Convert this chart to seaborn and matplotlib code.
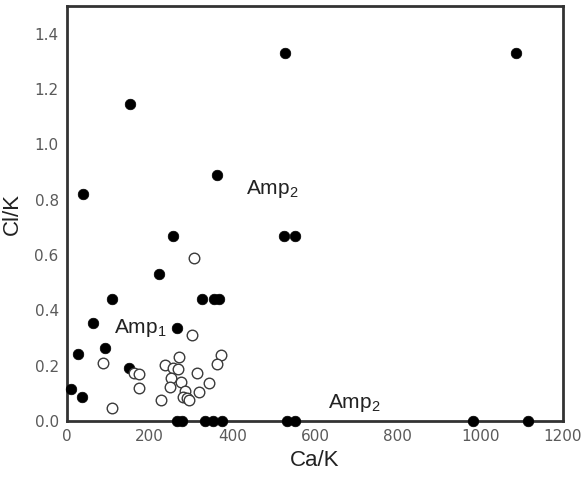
import matplotlib
matplotlib.use("Agg")
import matplotlib.pyplot as plt
import seaborn as sns
import pandas as pd

# Amp2 analyses (filled symbols)
amp2_ca_k = [1086, 527, 152, 363, 38, 256, 525, 552, 222, 108, 327, 356, 368,
             63, 265, 26, 92, 150, 10, 36,
             266, 278, 334, 353, 375, 532, 552, 983, 1115]
amp2_cl_k = [1.33, 1.33, 1.145, 0.89, 0.82, 0.67, 0.67, 0.67, 0.53, 0.44, 0.44, 0.44, 0.44,
             0.353, 0.335, 0.244, 0.265, 0.19, 0.116, 0.087,
             0.0, 0.0, 0.0, 0.0, 0.0, 0.0, 0.0, 0.0, 0.0]

# Amp1 analyses (open symbols)
amp1_ca_k = [307, 302, 271, 372, 362, 237, 256, 268, 315, 252, 276, 344, 249,
             319, 286, 281, 290, 295, 227, 87, 162, 174, 174, 109]
amp1_cl_k = [0.59, 0.31, 0.233, 0.24, 0.207, 0.203, 0.193, 0.189, 0.175, 0.156, 0.142, 0.138, 0.124,
             0.105, 0.109, 0.087, 0.084, 0.076, 0.076, 0.21, 0.175, 0.17, 0.12, 0.047]

x_ticks = [0, 200, 400, 600, 800, 1000, 1200]
y_ticks = [0.0, 0.2, 0.4, 0.6, 0.8, 1.0, 1.2, 1.4]

df = pd.DataFrame({
    "Ca/K": amp2_ca_k + amp1_ca_k,
    "Cl/K": amp2_cl_k + amp1_cl_k,
    "group": ["Amp2"] * len(amp2_ca_k) + ["Amp1"] * len(amp1_ca_k),
})

sns.set_style("white")
plt.rcParams["font.family"] = ["Liberation Sans", "DejaVu Sans"]
plt.rcParams["mathtext.fontset"] = "custom"
plt.rcParams["mathtext.rm"] = "Liberation Sans"
plt.rcParams["mathtext.it"] = "Liberation Sans"

fig = plt.figure(figsize=(5.84, 4.79), dpi=100)
ax = fig.add_axes([0.1147, 0.121, 0.8493, 0.8665])

sns.scatterplot(data=df[df.group == "Amp2"], x="Ca/K", y="Cl/K", ax=ax,
                color="black", edgecolor="black", s=58, linewidth=0.5,
                clip_on=False, zorder=3, legend=False)
sns.scatterplot(data=df[df.group == "Amp1"], x="Ca/K", y="Cl/K", ax=ax,
                color="white", edgecolor="#3a3a3a", s=58, linewidth=1.0,
                clip_on=False, zorder=3, legend=False)

ax.set_xlim(0, 1200)
ax.set_ylim(0, 1.5)
ax.set_xticks(x_ticks)
ax.set_yticks(y_ticks)
ax.set_xticklabels([str(v) for v in x_ticks])
ax.set_yticklabels([f"{v:.1f}" for v in y_ticks])
ax.tick_params(length=0, labelsize=11, labelcolor="#5a5a5a", pad=6)
for lbl in ax.get_xticklabels() + ax.get_yticklabels():
    lbl.set_family(["DejaVu Sans"])

for sp in ax.spines.values():
    sp.set_color("#333333")
    sp.set_linewidth(2)

ax.set_xlabel("Ca/K", fontsize=16, color="#222222", labelpad=4)
ax.set_ylabel("Cl/K", fontsize=16, color="#222222", labelpad=8)

label = r"$\mathregular{Amp_2}$"
ax.text(433, 0.84, label, fontsize=15, color="#222222", va="center", ha="left")
ax.text(114, 0.335, r"$\mathregular{Amp_1}$", fontsize=15, color="#222222", va="center", ha="left")
ax.text(631, 0.065, label, fontsize=15, color="#222222", va="center", ha="left")

fig.savefig("out.png", dpi=100)
